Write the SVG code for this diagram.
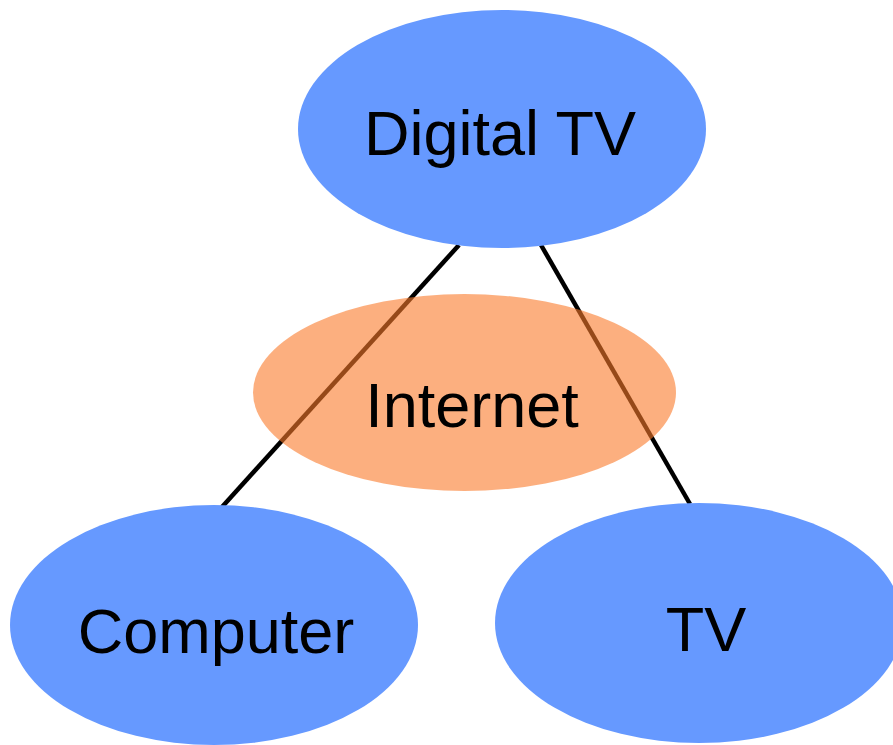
<svg xmlns="http://www.w3.org/2000/svg" width="893" height="745" viewBox="0 0 893 745">
<style>
.blue{fill:#6699FF}
.lbl{font-family:"Liberation Sans",Arial,sans-serif;font-size:63px;fill:#000;text-anchor:middle}
.edge{stroke:#000;stroke-width:4.5;fill:none}
</style>
<rect width="893" height="745" fill="#fff"/>
<g id="connectors">
<line class="edge" x1="459" y1="245" x2="222" y2="507"/>
<line class="edge" x1="541" y1="245" x2="690" y2="504"/>
</g>
<g id="digital-tv">
<ellipse class="blue" cx="502" cy="129" rx="204" ry="119"/>
<text class="lbl" x="500" y="155">Digital TV</text>
</g>
<g id="internet">
<ellipse cx="464.5" cy="392.5" rx="211.5" ry="98.5" fill="#FA7A2A" fill-opacity="0.6"/>
<text class="lbl" x="472" y="427">Internet</text>
</g>
<g id="computer">
<ellipse class="blue" cx="214" cy="625" rx="204" ry="120"/>
<text class="lbl" x="216" y="653">Computer</text>
</g>
<g id="tv">
<ellipse class="blue" cx="699" cy="623" rx="204" ry="120"/>
<text class="lbl" x="706" y="651">TV</text>
</g>
</svg>
